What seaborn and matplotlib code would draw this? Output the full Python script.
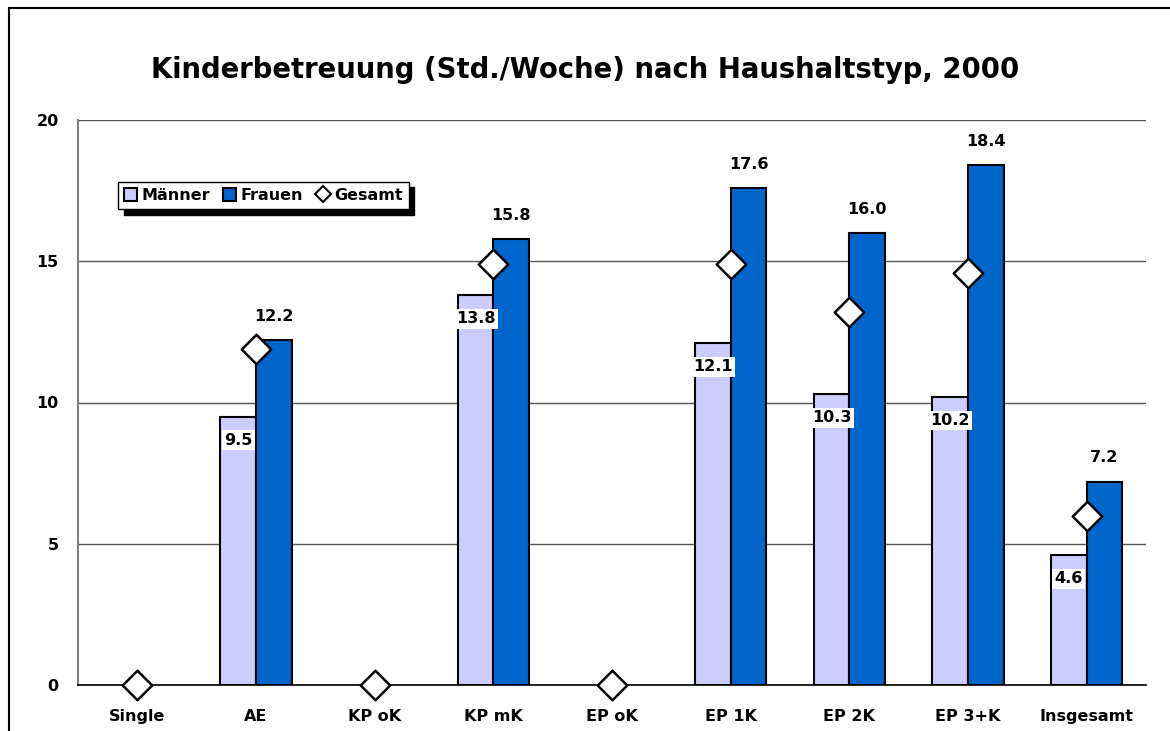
import matplotlib
matplotlib.use("Agg")
import matplotlib.pyplot as plt
import numpy as np
import pandas as pd
import seaborn as sns
from matplotlib.patches import Patch
from matplotlib.lines import Line2D

# values
kategorien = ["Single", "AE", "KP oK", "KP mK", "EP oK", "EP 1K", "EP 2K", "EP 3+K", "Insgesamt"]
maenner = [np.nan, 9.5, np.nan, 13.8, np.nan, 12.1, 10.3, 10.2, 4.6]
frauen = [np.nan, 12.2, np.nan, 15.8, np.nan, 17.6, 16.0, 18.4, 7.2]
gesamt = [0.0, 11.9, 0.0, 14.9, 0.0, 14.9, 13.2, 14.6, 6.0]

farbe_m = "#CCCCFF"
farbe_f = "#0066CC"

sns.set_style("white")
plt.rcParams["font.family"] = ["DejaVu Sans"]
plt.rcParams["font.weight"] = "bold"
plt.rcParams["text.color"] = "black"
plt.rcParams["xtick.color"] = "black"
plt.rcParams["ytick.color"] = "black"

df = pd.DataFrame({
    "Haushaltstyp": kategorien * 2,
    "Std": maenner + frauen,
    "Geschlecht": ["Männer"] * len(kategorien) + ["Frauen"] * len(kategorien),
})
df_g = pd.DataFrame({"Haushaltstyp": kategorien, "Gesamt": gesamt})

fig = plt.figure(figsize=(11.7, 7.31), dpi=100)
ax = fig.add_axes([78 / 1170, 1 - 685 / 731, (1146 - 78) / 1170, (685 - 120) / 731])

sns.barplot(data=df, x="Haushaltstyp", y="Std", hue="Geschlecht", order=kategorien,
            hue_order=["Männer", "Frauen"], palette=[farbe_m, farbe_f],
            width=0.6, edgecolor="black", linewidth=1.5, saturation=1,
            legend=False, ax=ax, zorder=2)

sns.stripplot(data=df_g, x="Haushaltstyp", y="Gesamt", order=kategorien, jitter=False,
              marker="D", size=15, color="white", edgecolor="black", linewidth=1.8,
              ax=ax, zorder=4, clip_on=False)

fs = 11.5

# labels
for p in ax.containers[0]:
    h = p.get_height()
    if np.isnan(h):
        continue
    ax.annotate(f"{h:.1f}", (p.get_x() + p.get_width() / 2, h), xytext=(0, -17),
                textcoords="offset points", ha="center", va="center", fontsize=fs,
                fontweight="bold", color="black", zorder=5,
                bbox=dict(boxstyle="square,pad=0.15", fc="white", ec="none"))
for p in ax.containers[1]:
    h = p.get_height()
    if np.isnan(h):
        continue
    ax.annotate(f"{h:.1f}", (p.get_x() + p.get_width() / 2, h), xytext=(0, 17),
                textcoords="offset points", ha="center", va="center", fontsize=fs,
                fontweight="bold", color="black", zorder=5)

ax.set_xlim(-0.5, len(kategorien) - 0.5)
ax.set_ylim(0, 20)
ax.set_yticks([0, 5, 10, 15, 20])
ax.set_xlabel("")
ax.set_ylabel("")
ax.yaxis.grid(True, color="#555555", linewidth=1)
ax.set_axisbelow(True)
for s in ["top", "right"]:
    ax.spines[s].set_visible(False)
ax.spines["left"].set_color("#808080")
ax.spines["left"].set_linewidth(1.5)
ax.spines["bottom"].set_color("black")
ax.spines["bottom"].set_linewidth(1.2)

ax.set_xticks(np.arange(-0.5, len(kategorien)), minor=True)
ax.tick_params(axis="x", which="major", length=0, pad=17, labelsize=fs, labelcolor="black")
ax.tick_params(axis="x", which="minor", length=6, width=1, color="#555555", direction="out")
ax.tick_params(axis="y", length=6, width=1, color="#555555", direction="out", pad=8,
               labelsize=fs, labelcolor="black")
for t in ax.get_xticklabels() + ax.get_yticklabels():
    t.set_fontweight("bold")

fig.suptitle("Kinderbetreuung (Std./Woche) nach Haushaltstyp, 2000", y=1 - 70 / 731,
             va="center", fontsize=19.8, fontweight="bold", color="black")

handles = [
    Patch(facecolor=farbe_m, edgecolor="black", linewidth=1.5, label="Männer"),
    Patch(facecolor=farbe_f, edgecolor="black", linewidth=1.5, label="Frauen"),
    Line2D([], [], marker="D", linestyle="none", markersize=8, markerfacecolor="white",
           markeredgecolor="black", markeredgewidth=1.5, label="Gesamt"),
]
leg = ax.legend(handles=handles, ncol=3, loc="upper left", bbox_to_anchor=(0.03, 0.905),
                frameon=True, fancybox=False, shadow={"color": "black", "alpha": 1, "ox": 4, "oy": -4},
                edgecolor="black", handlelength=0.8, handleheight=0.8, handletextpad=0.3,
                columnspacing=0.8, borderpad=0.4, prop={"weight": "bold", "size": fs})
leg.get_frame().set_linewidth(1)

# outer frame of the chart area (left and top edges)
fig.add_artist(Line2D([9 / 1170, 9 / 1170], [0, 1 - 8 / 731], color="black", linewidth=1.5,
                      transform=fig.transFigure))
fig.add_artist(Line2D([9 / 1170, 1], [1 - 8 / 731, 1 - 8 / 731], color="black", linewidth=1.5,
                      transform=fig.transFigure))

fig.savefig("out.png", dpi=100)
